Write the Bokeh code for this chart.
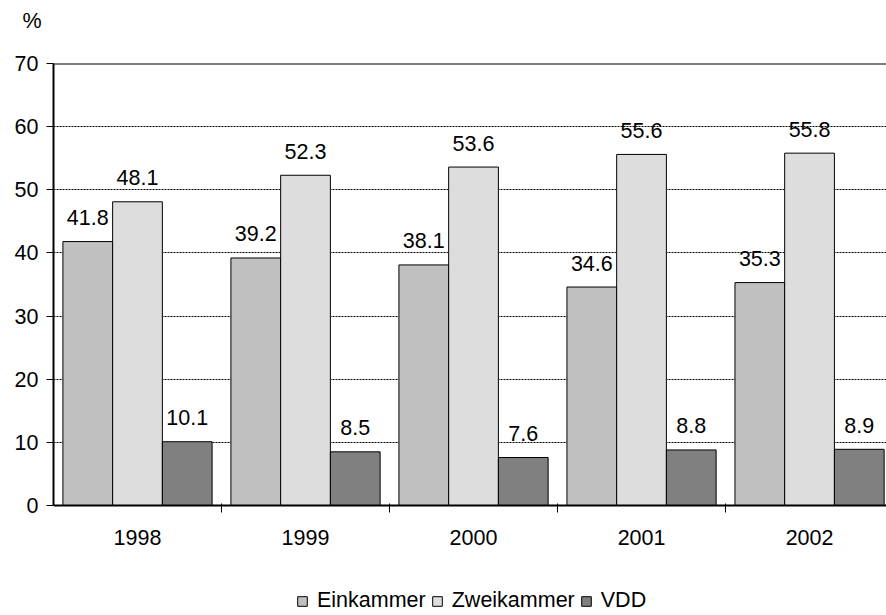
from bokeh.plotting import figure
from bokeh.models import Range1d, FixedTicker, Span, Legend, LegendItem, ColumnDataSource, Title
from bokeh.core.properties import value
from bokeh.embed import file_html
from bokeh.resources import INLINE

years = ["1998", "1999", "2000", "2001", "2002"]
einkammer = [41.8, 39.2, 38.1, 34.6, 35.3]
zweikammer = [48.1, 52.3, 53.6, 55.6, 55.8]
vdd = [10.1, 8.5, 7.6, 8.8, 8.9]
y_ticks = [0, 10, 20, 30, 40, 50, 60, 70]

FONT = "Liberation Sans"
FS = "21.5px"

centers = [i + 0.5 for i in range(len(years))]
bw = 0.296

# frame extends below the value axis to hold the category labels and legend
p = figure(frame_width=833, frame_height=552, title=None,
           x_range=Range1d(0, 4.958), y_range=Range1d(-17.42, 70),
           output_backend="svg", toolbar_location=None,
           min_border_left=53, min_border_right=0,
           min_border_top=63, min_border_bottom=0)
p.outline_line_color = None
p.background_fill_color = "white"
p.border_fill_color = "white"

series = [("Einkammer", einkammer, -bw, "#C0C0C0"),
          ("Zweikammer", zweikammer, 0.0, "#DDDDDD"),
          ("VDD", vdd, bw, "#808080")]

items = []
for name, vals, off, col in series:
    src = ColumnDataSource(dict(x=[c + off for c in centers], top=vals,
                                lab=[f"{v:.1f}" for v in vals]))
    r = p.vbar(x="x", top="top", width=bw, bottom=0, source=src,
               fill_color=col, line_color="black", line_width=1)
    p.text(x="x", y="top", text="lab", source=src, text_align="center",
           text_baseline="alphabetic", y_offset=-24,
           text_font=value(FONT), text_font_size=FS, text_color="black")
    items.append(LegendItem(label=name, renderers=[r]))

# y axis
p.yaxis.ticker = FixedTicker(ticks=y_ticks)
p.yaxis.bounds = (0, 70)
p.yaxis.major_tick_out = 7
p.yaxis.major_tick_in = 0
p.yaxis.minor_tick_line_color = None
p.yaxis.major_label_standoff = 8
p.yaxis.axis_line_width = 2
p.yaxis.axis_line_color = "black"
p.yaxis.major_tick_line_color = "black"
p.yaxis.major_label_text_font = FONT
p.yaxis.major_label_text_font_size = FS
p.yaxis.major_label_text_color = "black"

# x axis at value 0: labels at centres, tick marks at boundaries
p.xaxis.fixed_location = 0
p.xaxis.ticker = FixedTicker(ticks=centers, minor_ticks=[1, 2, 3, 4])
p.xaxis.major_label_overrides = {c: y for c, y in zip(centers, years)}
p.xaxis.major_tick_line_color = None
p.xaxis.major_tick_out = 0
p.xaxis.major_tick_in = 0
p.xaxis.minor_tick_line_color = "black"
p.xaxis.minor_tick_out = 7
p.xaxis.minor_tick_in = 2
p.xaxis.major_label_standoff = 17
p.xaxis.axis_line_width = 2
p.xaxis.axis_line_color = "black"
p.xaxis.major_label_text_font = FONT
p.xaxis.major_label_text_font_size = FS
p.xaxis.major_label_text_color = "black"

# grid
p.xgrid.visible = False
p.ygrid.ticker = FixedTicker(ticks=y_ticks[1:-1])
p.ygrid.grid_line_color = "black"
p.ygrid.grid_line_dash = "2 1"
p.ygrid.grid_line_width = 1

p.add_layout(Span(location=70, dimension="width", line_color="black", line_width=2))

# "%" unit label above the y axis (spacer next to the frame, then the title)
p.add_layout(Title(text=" ", text_font_size="10px", standoff=18), "above")
p.add_layout(Title(text="%", align="left", offset=-31, standoff=0,
                   vertical_align="bottom", text_font=FONT, text_font_size=FS,
                   text_font_style="normal", text_color="black"), "above")

legend = Legend(items=items, orientation="horizontal", location=(243, 2),
                glyph_width=12, glyph_height=12, label_standoff=9, spacing=5,
                padding=0, margin=0, border_line_color=None,
                background_fill_alpha=0,
                label_text_font=FONT, label_text_font_size=FS,
                label_text_color="black")
p.add_layout(legend, "center")

open("out.html", "w").write(file_html(p, INLINE))
